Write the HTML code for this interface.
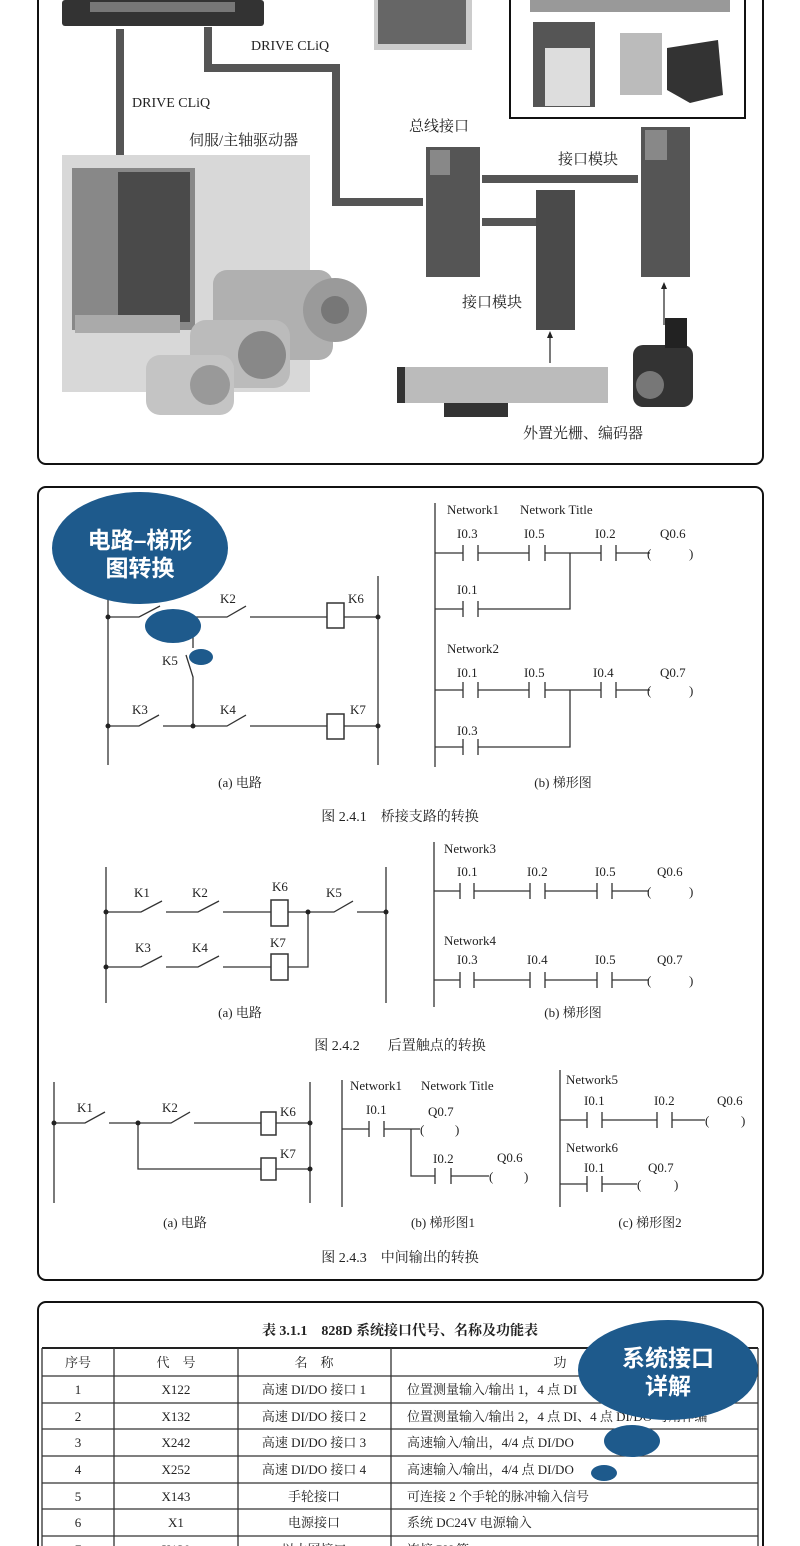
<!DOCTYPE html>
<html><head><meta charset="utf-8"><style>
html,body{margin:0;padding:0;background:#fff;}
svg{display:block}
text{font-family:"Liberation Serif","Noto Serif CJK SC",serif;fill:#222;font-size:13px}
.c{text-anchor:middle}
.w{fill:#fff;font-family:"Liberation Sans","Noto Sans CJK SC",sans-serif;font-weight:bold;font-size:23px;text-anchor:middle}
.l{stroke:#333;stroke-width:1.3;fill:none}
.t{stroke:#555;stroke-width:8;fill:none}
.cap{font-size:14px}
</style></head><body>
<svg width="800" height="1546" viewBox="0 0 800 1546" xmlns="http://www.w3.org/2000/svg">
<rect width="800" height="1546" fill="#fff"/>
<!-- SECTION 1 -->
<rect x="38" y="-20" width="725" height="484" rx="8" fill="none" stroke="#111" stroke-width="2"/>
<rect x="62" y="0" width="202" height="26" rx="3" fill="#333"/>
<rect x="90" y="2" width="145" height="10" fill="#777"/>
<rect x="374" y="0" width="98" height="50" fill="#ccc"/>
<rect x="378" y="0" width="88" height="44" fill="#666"/>
<rect x="510" y="-4" width="235" height="122" fill="#fff" stroke="#111" stroke-width="2"/>
<rect x="533" y="22" width="62" height="85" fill="#555"/>
<rect x="545" y="48" width="45" height="58" fill="#ddd"/>
<rect x="620" y="33" width="42" height="62" fill="#bbb"/>
<path d="M667 48L718 40L723 95L690 103L667 90Z" fill="#333"/>
<rect x="530" y="0" width="200" height="12" fill="#999"/>
<path class="t" d="M120 29V155"/>
<path class="t" d="M208 27V68H336V202H423"/>
<path class="t" d="M482 179H638M482 222H536"/>
<text x="251" y="50" style="font-size:14px">DRIVE CLiQ</text>
<text x="132" y="107" style="font-size:14px">DRIVE CLiQ</text>
<text x="189" y="145" style="font-size:15px">伺服/主轴驱动器</text>
<text x="409" y="131" style="font-size:15px">总线接口</text>
<text x="558" y="164" style="font-size:15px">接口模块</text>
<text x="462" y="307" style="font-size:15px">接口模块</text>
<text x="523" y="438" style="font-size:15px">外置光栅、编码器</text>
<rect x="62" y="155" width="248" height="237" fill="#d8d8d8"/>
<rect x="72" y="168" width="123" height="162" fill="#888"/>
<rect x="118" y="172" width="72" height="150" fill="#4a4a4a"/>
<rect x="75" y="315" width="105" height="18" fill="#aaa"/>
<rect x="213" y="270" width="120" height="90" rx="14" fill="#b0b0b0"/>
<circle cx="335" cy="310" r="32" fill="#9a9a9a"/>
<circle cx="335" cy="310" r="14" fill="#777"/>
<rect x="190" y="320" width="100" height="68" rx="16" fill="#bbb"/>
<circle cx="262" cy="355" r="24" fill="#888"/>
<rect x="146" y="355" width="88" height="60" rx="14" fill="#c4c4c4"/>
<circle cx="210" cy="385" r="20" fill="#999"/>
<rect x="426" y="147" width="54" height="130" fill="#555"/>
<rect x="430" y="150" width="20" height="25" fill="#888"/>
<rect x="536" y="190" width="39" height="140" fill="#4a4a4a"/>
<rect x="641" y="127" width="49" height="150" fill="#555"/>
<rect x="645" y="130" width="22" height="30" fill="#888"/>
<rect x="397" y="367" width="211" height="36" fill="#bbb"/>
<rect x="397" y="367" width="8" height="36" fill="#333"/>
<rect x="444" y="403" width="64" height="14" fill="#333"/>
<rect x="633" y="345" width="60" height="62" rx="10" fill="#333"/>
<rect x="665" y="318" width="22" height="30" fill="#222"/>
<circle cx="650" cy="385" r="14" fill="#777"/>
<path class="l" d="M550 363V336M664 325V287"/>
<path d="M550 331l-3 7h6zM664 282l-3 7h6z" fill="#222"/>
<!-- SECTION 2 -->
<rect x="38" y="487" width="725" height="793" rx="8" fill="none" stroke="#111" stroke-width="2"/>
<path class="l" d="M108 600V765M378 576V765"/>
<path class="l" d="M108 617H139L160 606M165 617H227L246 606M250 617H327M344 617H378"/>
<rect x="327" y="603" width="17" height="25" fill="#fff" stroke="#333" stroke-width="1.5"/>
<path class="l" d="M193 617V648M186 655L193 677V726"/>
<path class="l" d="M108 726H139L159 715M163 726H227L246 715M250 726H327M344 726H378"/>
<rect x="327" y="714" width="17" height="25" fill="#fff" stroke="#333" stroke-width="1.5"/>
<g fill="#222"><circle cx="108" cy="617" r="2.5"/><circle cx="378" cy="617" r="2.5"/><circle cx="108" cy="726" r="2.5"/><circle cx="193" cy="726" r="2.5"/><circle cx="378" cy="726" r="2.5"/></g>
<text x="220" y="603">K2</text><text x="348" y="603">K6</text><text x="162" y="665">K5</text>
<text x="132" y="714">K3</text><text x="220" y="714">K4</text><text x="350" y="714">K7</text>
<ellipse cx="140" cy="548" rx="88" ry="56" fill="#1e5a8c"/>
<text class="w" x="140" y="548">电路–梯形</text><text class="w" x="140" y="576">图转换</text>
<ellipse cx="173" cy="626" rx="28" ry="17" fill="#1e5a8c"/>
<ellipse cx="201" cy="657" rx="12" ry="8" fill="#1e5a8c"/>
<path class="l" d="M435 503V767"/>
<text x="447" y="514">Network1</text><text x="520" y="514">Network Title</text>
<path class="l" d="M435 553H463M478 553H529M545 553H601M616 553H650M463 545v16M478 545v16M529 545v16M545 545v16M601 545v16M616 545v16M570 553V609H478M435 609H463M463 601v16M478 601v16"/>
<text x="457" y="538">I0.3</text><text x="524" y="538">I0.5</text><text x="595" y="538">I0.2</text><text x="660" y="538">Q0.6</text>
<text x="647" y="558">(</text><text x="689" y="558">)</text>
<text x="457" y="594">I0.1</text>
<text x="447" y="653">Network2</text>
<path class="l" d="M435 690H463M478 690H529M545 690H601M616 690H650M463 682v16M478 682v16M529 682v16M545 682v16M601 682v16M616 682v16M570 690V747H478M435 747H463M463 739v16M478 739v16"/>
<text x="457" y="677">I0.1</text><text x="524" y="677">I0.5</text><text x="593" y="677">I0.4</text><text x="660" y="677">Q0.7</text>
<text x="647" y="695">(</text><text x="689" y="695">)</text>
<text x="457" y="735">I0.3</text>
<text class="c" x="240" y="787">(a) 电路</text><text class="c" x="563" y="787">(b) 梯形图</text>
<text class="c cap" x="400" y="821">图 2.4.1　桥接支路的转换</text>
<path class="l" d="M106 867V1003M386 867V1003"/>
<path class="l" d="M106 912H141L162 901M166 912H198L219 901M223 912H271M288 912H334L353 901M357 912H386M106 967H141L162 956M166 967H198L219 956M223 967H271M288 967H308V912"/>
<rect x="271" y="900" width="17" height="26" fill="#fff" stroke="#333" stroke-width="1.5"/>
<rect x="271" y="954" width="17" height="26" fill="#fff" stroke="#333" stroke-width="1.5"/>
<g fill="#222"><circle cx="106" cy="912" r="2.5"/><circle cx="106" cy="967" r="2.5"/><circle cx="308" cy="912" r="2.5"/><circle cx="386" cy="912" r="2.5"/></g>
<text x="134" y="897">K1</text><text x="192" y="897">K2</text><text x="272" y="891">K6</text><text x="326" y="897">K5</text>
<text x="135" y="952">K3</text><text x="192" y="952">K4</text><text x="270" y="947">K7</text>
<path class="l" d="M434 842V1007"/>
<text x="444" y="853">Network3</text>
<path class="l" d="M434 891H460M474 891H530M545 891H597M612 891H648M460 883v16M474 883v16M530 883v16M545 883v16M597 883v16M612 883v16"/>
<text x="457" y="876">I0.1</text><text x="527" y="876">I0.2</text><text x="595" y="876">I0.5</text><text x="657" y="876">Q0.6</text>
<text x="647" y="896">(</text><text x="689" y="896">)</text>
<text x="444" y="945">Network4</text>
<path class="l" d="M434 980H460M474 980H530M545 980H597M612 980H648M460 972v16M474 972v16M530 972v16M545 972v16M597 972v16M612 972v16"/>
<text x="457" y="964">I0.3</text><text x="527" y="964">I0.4</text><text x="595" y="964">I0.5</text><text x="657" y="964">Q0.7</text>
<text x="647" y="985">(</text><text x="689" y="985">)</text>
<text class="c" x="240" y="1017">(a) 电路</text><text class="c" x="573" y="1017">(b) 梯形图</text>
<text class="c cap" x="400" y="1050">图 2.4.2　　后置触点的转换</text>
<path class="l" d="M54 1082V1203M310 1082V1203"/>
<path class="l" d="M54 1123H85L105 1112M109 1123H171L190 1112M194 1123H261M276 1123H310M138 1123V1169H261M276 1169H310"/>
<rect x="261" y="1112" width="15" height="23" fill="#fff" stroke="#333" stroke-width="1.5"/>
<rect x="261" y="1158" width="15" height="22" fill="#fff" stroke="#333" stroke-width="1.5"/>
<g fill="#222"><circle cx="54" cy="1123" r="2.5"/><circle cx="138" cy="1123" r="2.5"/><circle cx="310" cy="1123" r="2.5"/><circle cx="310" cy="1169" r="2.5"/></g>
<text x="77" y="1112">K1</text><text x="162" y="1112">K2</text><text x="280" y="1116">K6</text><text x="280" y="1158">K7</text>
<path class="l" d="M342 1080V1207"/>
<text x="350" y="1090">Network1</text><text x="421" y="1090">Network Title</text>
<path class="l" d="M342 1129H369M384 1129H420M369 1121v16M384 1121v16M411 1129V1176H435M451 1176H489M435 1168v16M451 1168v16"/>
<text x="366" y="1114">I0.1</text><text x="428" y="1116">Q0.7</text><text x="420" y="1134">(</text><text x="455" y="1134">)</text>
<text x="433" y="1163">I0.2</text><text x="497" y="1162">Q0.6</text><text x="489" y="1181">(</text><text x="524" y="1181">)</text>
<path class="l" d="M560 1070V1207"/>
<text x="566" y="1084">Network5</text>
<path class="l" d="M560 1120H587M602 1120H657M672 1120H705M587 1112v16M602 1112v16M657 1112v16M672 1112v16"/>
<text x="584" y="1105">I0.1</text><text x="654" y="1105">I0.2</text><text x="717" y="1105">Q0.6</text><text x="705" y="1125">(</text><text x="741" y="1125">)</text>
<text x="566" y="1152">Network6</text>
<path class="l" d="M560 1184H587M602 1184H637M587 1176v16M602 1176v16"/>
<text x="584" y="1172">I0.1</text><text x="648" y="1172">Q0.7</text><text x="637" y="1189">(</text><text x="674" y="1189">)</text>
<text class="c" x="185" y="1227">(a) 电路</text><text class="c" x="443" y="1227">(b) 梯形图1</text><text class="c" x="650" y="1227">(c) 梯形图2</text>
<text class="c cap" x="400" y="1262">图 2.4.3　中间输出的转换</text>
<!-- SECTION 3 -->
<rect x="38" y="1302" width="725" height="260" rx="8" fill="none" stroke="#111" stroke-width="2"/>
<text class="c" x="400" y="1335" style="font-size:14px;font-weight:bold">表 3.1.1　828D 系统接口代号、名称及功能表</text>
<path d="M42 1348H758" stroke="#222" stroke-width="2"/>
<path class="l" d="M42 1376H758M42 1403H758M42 1429H758M42 1456H758M42 1483H758M42 1509H758M42 1536H758M42 1348V1546M114 1348V1546M238 1348V1546M391 1348V1546M758 1348V1546"/>
<text class="c" x="78" y="1367">序号</text><text class="c" x="176" y="1367">代　号</text><text class="c" x="314" y="1367">名　称</text><text class="c" x="560" y="1367">功</text>
<text class="c" x="78" y="1394">1</text><text class="c" x="176" y="1394">X122</text><text class="c" x="314" y="1394">高速 DI/DO 接口 1</text>
<text class="c" x="78" y="1421">2</text><text class="c" x="176" y="1421">X132</text><text class="c" x="314" y="1421">高速 DI/DO 接口 2</text>
<text class="c" x="78" y="1447">3</text><text class="c" x="176" y="1447">X242</text><text class="c" x="314" y="1447">高速 DI/DO 接口 3</text>
<text class="c" x="78" y="1474">4</text><text class="c" x="176" y="1474">X252</text><text class="c" x="314" y="1474">高速 DI/DO 接口 4</text>
<text class="c" x="78" y="1501">5</text><text class="c" x="176" y="1501">X143</text><text class="c" x="314" y="1501">手轮接口</text>
<text class="c" x="78" y="1527">6</text><text class="c" x="176" y="1527">X1</text><text class="c" x="314" y="1527">电源接口</text>
<text class="c" x="78" y="1554">7</text><text class="c" x="176" y="1554">X130</text><text class="c" x="314" y="1554">以太网接口</text>
<text x="407" y="1394">位置测量输入/输出 1，4 点 DI</text>
<text x="407" y="1421">位置测量输入/输出 2，4 点 DI、4 点 DI/DO 可用作编</text>
<text x="407" y="1447">高速输入/输出，4/4 点 DI/DO</text>
<text x="407" y="1474">高速输入/输出，4/4 点 DI/DO</text>
<text x="407" y="1501">可连接 2 个手轮的脉冲输入信号</text>
<text x="407" y="1527">系统 DC24V 电源输入</text>
<text x="407" y="1554">连接 PN 等</text>
<ellipse cx="668" cy="1370" rx="90" ry="50" fill="#1e5a8c"/>
<text class="w" x="668" y="1366">系统接口</text><text class="w" x="668" y="1394">详解</text>
<ellipse cx="632" cy="1441" rx="28" ry="16" fill="#1e5a8c"/>
<ellipse cx="604" cy="1473" rx="13" ry="8" fill="#1e5a8c"/>
</svg>
</body></html>
